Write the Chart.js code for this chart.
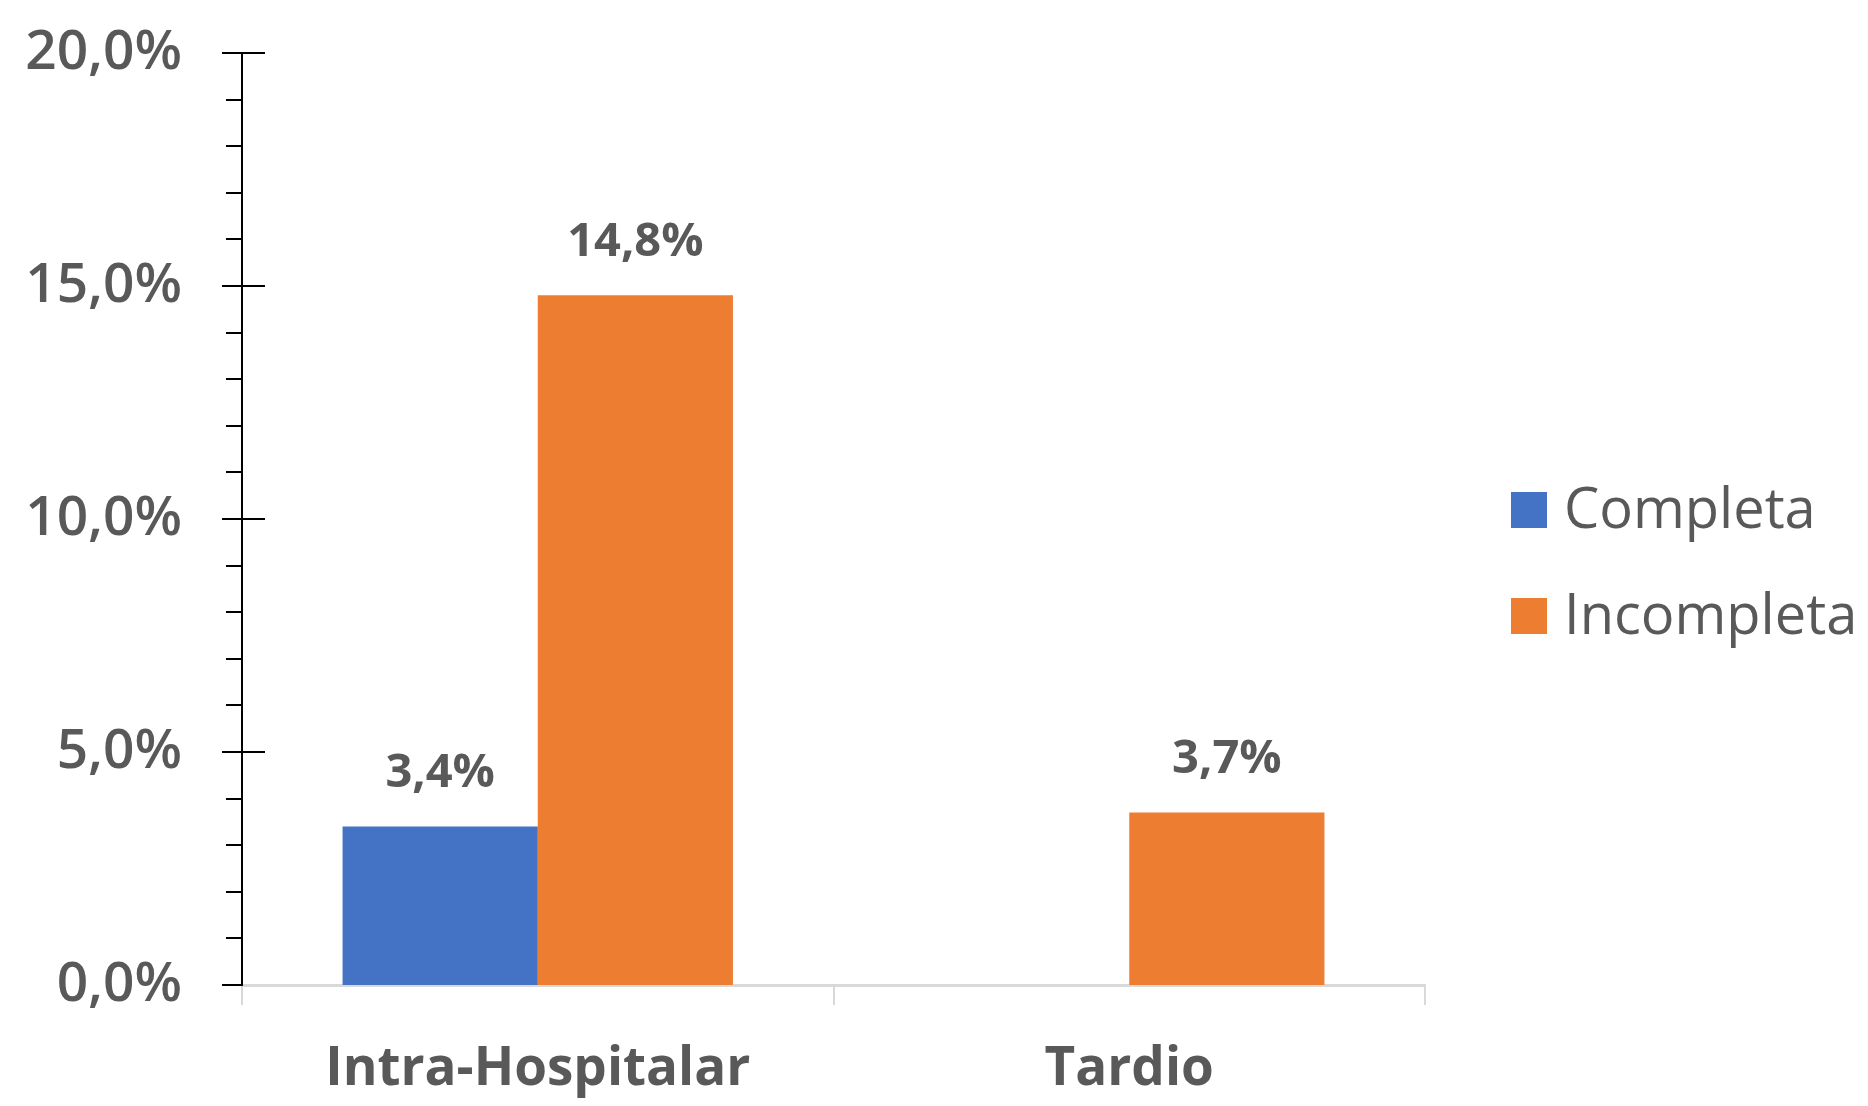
<!DOCTYPE html>
<html>
<head>
<meta charset="utf-8">
<script src="https://cdn.jsdelivr.net/npm/chart.js@4.4.0/dist/chart.umd.min.js"></script>
<style>
  html, body { margin: 0; padding: 0; background: #ffffff; }
  #wrap { width: 1868px; height: 1106px; }
</style>
</head>
<body>
<div id="wrap"><canvas id="chart" width="1868" height="1106"></canvas></div>
<script>
// Categories and series values (percent)
const categories = ['Intra-Hospitalar', 'Tardio'];
const seriesNames = ['Completa', 'Incompleta'];
const completaValues = [3.4, null];
const incompletaValues = [14.8, 3.7];
const seriesColors = ['#4472C4', '#ED7D31'];

// Value axis
const yMin = 0;
const yMax = 20;
const yMajorStep = 5;
const yMinorStep = 1;

const FONT = "'Open Sans', 'DejaVu Sans', sans-serif";
const TEXT = '#595959';

const pct = v => v.toFixed(1).replace('.', ',') + '%';

// Major/minor tick marks on the value axis (majors cross the axis line)
const valueAxisTicks = {
  id: 'valueAxisTicks',
  afterDraw(chart) {
    const ys = chart.scales.y;
    const ctx = chart.ctx;
    const x0 = ys.right;
    ctx.save();
    ctx.strokeStyle = '#000000';
    ctx.lineWidth = 2;
    for (let v = ys.min; v <= ys.max + 1e-9; v += yMinorStep) {
      const py = Math.round(ys.getPixelForValue(v));
      const major = Math.abs(v % yMajorStep) < 1e-9;
      ctx.beginPath();
      ctx.moveTo(x0 - (major ? 20 : 16), py);
      ctx.lineTo(major && v !== 0 ? x0 + 23 : x0, py);
      ctx.stroke();
    }
    ctx.restore();
  }
};

// Value labels above each bar
const barValueLabels = {
  id: 'barValueLabels',
  afterDatasetsDraw(chart) {
    const ctx = chart.ctx;
    ctx.save();
    ctx.font = "bold 47px " + FONT;
    ctx.fillStyle = TEXT;
    ctx.textAlign = 'center';
    ctx.textBaseline = 'middle';
    chart.data.datasets.forEach((ds, di) => {
      const meta = chart.getDatasetMeta(di);
      meta.data.forEach((bar, i) => {
        const v = ds.data[i];
        if (v === null || v === undefined) return;
        ctx.fillText(pct(v), bar.x, bar.y - 53);
      });
    });
    ctx.restore();
  }
};

// Legend on the right
const sideLegend = {
  id: 'sideLegend',
  afterDraw(chart) {
    const ctx = chart.ctx;
    const left = 1511;
    const firstY = 510;
    const rowGap = 106;
    const box = 36;
    ctx.save();
    ctx.font = "56px " + FONT;
    ctx.textAlign = 'left';
    ctx.textBaseline = 'middle';
    chart.data.datasets.forEach((ds, i) => {
      const cy = firstY + i * rowGap;
      ctx.fillStyle = ds.backgroundColor;
      ctx.fillRect(left, cy - box / 2, box, box);
      ctx.fillStyle = TEXT;
      ctx.fillText(ds.label, left + box + 17, cy + 2);
    });
    ctx.restore();
  }
};

new Chart(document.getElementById('chart'), {
  type: 'bar',
  data: {
    labels: categories,
    datasets: [
      { label: seriesNames[0], data: completaValues, backgroundColor: seriesColors[0] },
      { label: seriesNames[1], data: incompletaValues, backgroundColor: seriesColors[1] }
    ]
  },
  options: {
    responsive: false,
    animation: false,
    devicePixelRatio: 1,
    layout: { padding: { left: 0, top: 53, right: 443, bottom: 0 } },
    datasets: { bar: { categoryPercentage: 0.66, barPercentage: 1.0 } },
    plugins: { legend: { display: false }, tooltip: { enabled: false } },
    scales: {
      x: {
        offset: true,
        border: { display: true, color: '#d9d9d9', width: 3 },
        grid: { display: true, drawOnChartArea: false, drawTicks: true, tickLength: 20, color: '#d9d9d9', lineWidth: 2 },
        ticks: {
          color: TEXT,
          padding: 33,
          font: { family: FONT, size: 53, weight: 'bold', lineHeight: 1.2 }
        },
        afterFit(scale) { scale.height = 121; }
      },
      y: {
        min: yMin,
        max: yMax,
        border: { display: true, color: '#000000', width: 2 },
        grid: { display: false, drawTicks: false },
        ticks: {
          stepSize: yMajorStep,
          color: TEXT,
          padding: 60,
          font: { family: FONT, size: 55, weight: '600' },
          callback: v => pct(v)
        },
        afterFit(scale) {
          scale.width = 242;
          scale.paddingTop = 0;
          scale.paddingBottom = 0;
        }
      }
    }
  },
  plugins: [valueAxisTicks, barValueLabels, sideLegend]
});
</script>
</body>
</html>
